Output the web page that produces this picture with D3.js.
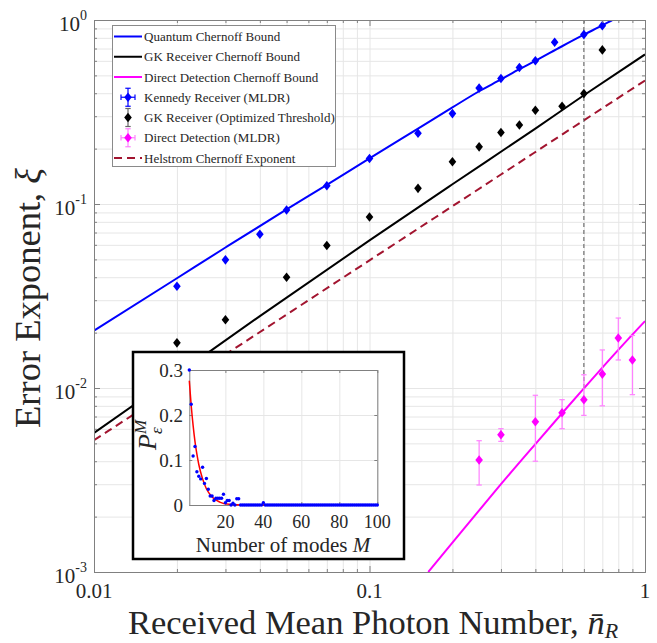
<!DOCTYPE html>
<html><head><meta charset="utf-8">
<script src="https://cdn.jsdelivr.net/npm/d3@7"></script>
<style>
body{margin:0;background:#fff}
svg{display:block}
text{font-family:"Liberation Serif","Times New Roman",serif;fill:#262626}
</style>
</head><body>
<svg id="c" width="657" height="643"></svg>
<script>
// ---------------- DATA ----------------
const xTickVals = [0.01, 0.1, 1];
const xTickLabels = ["0.01", "0.1", "1"];
const yTickVals = [1, 0.1, 0.01, 0.001];
const yTickExponents = ["0", "-1", "-2", "-3"];

// Theoretical curves
const qcbX = [0.01, 0.02, 0.03, 0.05, 0.07, 0.1, 0.15, 0.2, 0.25, 0.3, 0.35, 0.4, 0.5, 0.6, 0.7, 0.8];
const qcbY = [0.0205, 0.0395, 0.058, 0.0935, 0.127, 0.177, 0.257, 0.335, 0.41, 0.475, 0.54, 0.6, 0.72, 0.832, 0.935, 1.04];
const gkbX = [0.01, 0.02, 0.04, 0.1, 0.2, 0.4, 0.6, 1];
const gkbY = [0.0057, 0.0118, 0.0246, 0.0634, 0.128, 0.257, 0.39, 0.65];
const ddbX = [0.1634, 0.2, 0.25, 0.3, 0.4, 0.5, 0.6, 0.8, 1];
const ddbY = [0.001, 0.001445, 0.00216, 0.0030, 0.00496, 0.00729, 0.00995, 0.01612, 0.0231];
const helX = [0.01, 0.03, 0.1, 0.3, 0.6, 1];
const helY = [0.0052, 0.0152, 0.0494, 0.1446, 0.285, 0.469];

// Measured points
const kennedyX = [0.02, 0.03, 0.04, 0.05, 0.07, 0.1, 0.15, 0.2, 0.25, 0.3, 0.35, 0.4, 0.47, 0.6, 0.7];
const kennedyY = [0.0357, 0.0497, 0.0685, 0.0928, 0.1257, 0.1768, 0.2423, 0.31, 0.4266, 0.481, 0.552, 0.60, 0.757, 0.833, 0.932];
const gkX = [0.02, 0.03, 0.05, 0.07, 0.1, 0.15, 0.2, 0.25, 0.3, 0.35, 0.4, 0.5, 0.6, 0.7];
const gkY = [0.0176, 0.0235, 0.040, 0.0595, 0.085, 0.1216, 0.1696, 0.2044, 0.2445, 0.269, 0.323, 0.34, 0.398, 0.688];
const ddX = [0.25, 0.3, 0.4, 0.5, 0.6, 0.7, 0.8, 0.9];
const ddY = [0.00406, 0.00557, 0.00656, 0.00734, 0.00864, 0.0119, 0.0187, 0.0142];
const ddLo = [0.00297, 0.00513, 0.0040, 0.00601, 0.0071, 0.0080, 0.0142, 0.0092];
const ddHi = [0.00517, 0.00601, 0.00913, 0.00864, 0.0118, 0.0161, 0.0240, 0.0193];
const markerLineX = 0.6;
const markerLineY = [0.01, 1];

// Legend
const legendLabels = ["Quantum Chernoff Bound", "GK Receiver Chernoff Bound", "Direct Detection Chernoff Bound",
  "Kennedy Receiver (MLDR)", "GK Receiver (Optimized Threshold)", "Direct Detection (MLDR)", "Helstrom Chernoff Exponent"];

// Inset
const insetXTicks = [20, 40, 60, 80, 100];
const insetYTicks = [0, 0.1, 0.2, 0.3];
const insetYTickLabels = ["0", "0.1", "0.2", "0.3"];
const insetM = d3.range(1, 101);
const insetP = [0.300, 0.224, 0.109, 0.130, 0.074, 0.064, 0.058, 0.084, 0.048, 0.059,
  0.035, 0.020, 0.020, 0.010, 0.015, 0.015, 0.015, 0.015, 0.024, 0.005,
  0.010, 0.010, 0.000, 0.004, 0.000, 0.014, 0.014, 0, 0, 0,
  0, 0, 0, 0, 0, 0, 0, 0, 0, 0.005,
  0, 0, 0, 0, 0, 0, 0, 0, 0, 0,
  0, 0, 0, 0, 0, 0, 0, 0, 0, 0,
  0, 0, 0, 0, 0, 0, 0, 0, 0, 0,
  0, 0, 0, 0, 0, 0, 0, 0, 0, 0,
  0, 0, 0, 0, 0, 0, 0, 0, 0, 0,
  0, 0, 0, 0, 0, 0, 0, 0, 0, 0];
const fitM = [1, 2, 3, 4, 5, 6, 8, 10, 13, 17, 22, 30, 100];
const fitP = [0.276, 0.221, 0.177, 0.141, 0.113, 0.090, 0.058, 0.036, 0.018, 0.0065, 0.0015, 0.0, 0.0];

// ---------------- CHART ----------------
const svg = d3.select("#c");
const L = 94, R = 645, T = 20, B = 572;
const axisCol = "#808080", gridCol = "#e6e6e6";
const x = d3.scaleLog().domain([0.01, 1]).range([L, R]);
const y = d3.scaleLog().domain([0.001, 1]).range([B, T]);
const isMajor = v => Math.abs(Math.log10(v) - Math.round(Math.log10(v))) < 1e-9;
const xAll = x.ticks(), yAll = y.ticks();
const xMaj = xAll.filter(isMajor), xMin = xAll.filter(v => !isMajor(v));
const yMaj = yAll.filter(isMajor), yMin = yAll.filter(v => !isMajor(v));

function styleGrid(g) { g.select(".domain").remove(); g.selectAll("line").attr("stroke", gridCol).attr("stroke-width", 1); }
svg.append("g").attr("transform", `translate(0,${B})`)
  .call(d3.axisBottom(x).tickValues(xAll).tickSize(-(B - T)).tickFormat("")).call(styleGrid);
svg.append("g").attr("transform", `translate(${L},0)`)
  .call(d3.axisLeft(y).tickValues(yAll).tickSize(-(R - L)).tickFormat("")).call(styleGrid);

svg.append("defs").append("clipPath").attr("id", "clip")
  .append("rect").attr("x", L).attr("y", T).attr("width", R - L).attr("height", B - T);
const plot = svg.append("g").attr("clip-path", "url(#clip)");
const line = d3.line().x(d => x(d[0])).y(d => y(d[1])).curve(d3.curveMonotoneX);
const zip = (a, b) => a.map((v, i) => [v, b[i]]);

plot.append("path").datum(zip(helX, helY)).attr("d", line).attr("fill", "none")
  .attr("stroke", "#a2142f").attr("stroke-width", 2).attr("stroke-dasharray", "8,5");
plot.append("path").datum(zip(gkbX, gkbY)).attr("d", line).attr("fill", "none")
  .attr("stroke", "#000").attr("stroke-width", 2);
plot.append("path").datum(zip(qcbX, qcbY)).attr("d", line).attr("fill", "none")
  .attr("stroke", "#0000ff").attr("stroke-width", 2);
plot.append("path").datum(zip(ddbX, ddbY)).attr("d", line).attr("fill", "none")
  .attr("stroke", "#ff00ff").attr("stroke-width", 2);

// vertical dashed marker
plot.append("line").attr("x1", x(markerLineX)).attr("x2", x(markerLineX))
  .attr("y1", y(markerLineY[0])).attr("y2", y(markerLineY[1]))
  .attr("stroke", "#555").attr("stroke-width", 1).attr("stroke-dasharray", "4,3");

const diamond = (cx, cy) => `M${cx},${cy - 4.8}L${cx + 3.8},${cy}L${cx},${cy + 4.8}L${cx - 3.8},${cy}Z`;

// DD error bars
const ddErr = plot.append("g").attr("stroke", "#ff80ff").attr("stroke-width", 1.2);
ddX.forEach((v, i) => {
  const cx = x(v);
  ddErr.append("line").attr("x1", cx).attr("x2", cx).attr("y1", y(ddLo[i])).attr("y2", y(ddHi[i]));
  ddErr.append("line").attr("x1", cx - 2.7).attr("x2", cx + 2.7).attr("y1", y(ddLo[i])).attr("y2", y(ddLo[i]));
  ddErr.append("line").attr("x1", cx - 2.7).attr("x2", cx + 2.7).attr("y1", y(ddHi[i])).attr("y2", y(ddHi[i]));
});
plot.selectAll(".kd").data(zip(kennedyX, kennedyY)).join("path")
  .attr("d", d => diamond(x(d[0]), y(d[1]))).attr("fill", "#0000ff");
plot.selectAll(".gd").data(zip(gkX, gkY)).join("path")
  .attr("d", d => diamond(x(d[0]), y(d[1]))).attr("fill", "#000");
plot.selectAll(".dd").data(zip(ddX, ddY)).join("path")
  .attr("d", d => diamond(x(d[0]), y(d[1]))).attr("fill", "#ff00ff");

// axes box + ticks (inward)
function styleAx(g) { g.selectAll("text").remove(); g.select(".domain").attr("stroke", axisCol); g.selectAll("line").attr("stroke", axisCol); }
[[xMaj, 6], [xMin, 3]].forEach(([vals, s]) => {
  svg.append("g").attr("transform", `translate(0,${B})`).call(d3.axisBottom(x).tickValues(vals).tickSizeInner(-s).tickSizeOuter(0)).call(styleAx);
  svg.append("g").attr("transform", `translate(0,${T})`).call(d3.axisTop(x).tickValues(vals).tickSizeInner(-s).tickSizeOuter(0)).call(styleAx);
});
[[yMaj, 6], [yMin, 3]].forEach(([vals, s]) => {
  svg.append("g").attr("transform", `translate(${L},0)`).call(d3.axisLeft(y).tickValues(vals).tickSizeInner(-s).tickSizeOuter(0)).call(styleAx);
  svg.append("g").attr("transform", `translate(${R},0)`).call(d3.axisRight(y).tickValues(vals).tickSizeInner(-s).tickSizeOuter(0)).call(styleAx);
});

// tick labels
xTickVals.forEach((v, i) => {
  svg.append("text").attr("x", x(v)).attr("y", 598).attr("text-anchor", "middle")
    .attr("font-size", 21).text(xTickLabels[i]);
});
yTickVals.forEach((v, i) => {
  const t = svg.append("text").attr("x", 87).attr("y", y(v) + 11).attr("text-anchor", "end").attr("font-size", 21);
  t.append("tspan").text("10");
  t.append("tspan").attr("dy", -11).attr("font-size", 14).text(yTickExponents[i]);
});

// axis titles
const xl = svg.append("text").attr("x", 373).attr("y", 634).attr("text-anchor", "middle").attr("font-size", 34.5);
xl.append("tspan").text("Received Mean Photon Number, ");
xl.append("tspan").attr("font-style", "italic").text("n\u0304");
xl.append("tspan").attr("font-style", "italic").attr("font-size", 22).attr("dy", 4).text("R");
const yl = svg.append("text").attr("transform", "translate(40,298) rotate(-90)").attr("text-anchor", "middle").attr("font-size", 36.5);
yl.append("tspan").text("Error Exponent, ");
yl.append("tspan").attr("font-style", "italic").text("\u03BE");

// ---------------- LEGEND ----------------
const lg = svg.append("g");
lg.append("rect").attr("x", 112.5).attr("y", 25.5).attr("width", 223).attr("height", 141)
  .attr("fill", "#fff").attr("stroke", "#8a8a8a").attr("stroke-width", 1);
const rowY = i => 36.5 + i * 20.25;
const gx0 = 114, gx1 = 142, gxc = 128;
const lineCols = ["#0000ff", "#000", "#ff00ff"];
lineCols.forEach((c, i) => lg.append("line").attr("x1", gx0).attr("x2", gx1).attr("y1", rowY(i)).attr("y2", rowY(i)).attr("stroke", c).attr("stroke-width", 2));
function errGlyph(i, col, fillCol, horiz) {
  const cy = rowY(i), g = lg.append("g").attr("stroke", col).attr("stroke-width", 1.2);
  g.append("line").attr("x1", gxc).attr("x2", gxc).attr("y1", cy - 9).attr("y2", cy + 9);
  g.append("line").attr("x1", gxc - 2.7).attr("x2", gxc + 2.7).attr("y1", cy - 9).attr("y2", cy - 9);
  g.append("line").attr("x1", gxc - 2.7).attr("x2", gxc + 2.7).attr("y1", cy + 9).attr("y2", cy + 9);
  if (horiz) {
    g.append("line").attr("x1", gxc - 7).attr("x2", gxc + 7).attr("y1", cy).attr("y2", cy);
    g.append("line").attr("x1", gxc - 7).attr("x2", gxc - 7).attr("y1", cy - 2.7).attr("y2", cy + 2.7);
    g.append("line").attr("x1", gxc + 7).attr("x2", gxc + 7).attr("y1", cy - 2.7).attr("y2", cy + 2.7);
  }
  lg.append("path").attr("d", diamond(gxc, cy)).attr("fill", fillCol);
}
errGlyph(3, "#0000ff", "#0000ff", true);
errGlyph(4, "#666", "#000", false);
errGlyph(5, "#ff80ff", "#ff00ff", true);
lg.append("line").attr("x1", gx0).attr("x2", gx1).attr("y1", rowY(6)).attr("y2", rowY(6))
  .attr("stroke", "#a2142f").attr("stroke-width", 2).attr("stroke-dasharray", "8,5");
legendLabels.forEach((s, i) => lg.append("text").attr("x", 144).attr("y", rowY(i) + 4.5)
  .attr("font-size", 13).text(s));

// ---------------- INSET ----------------
const ins = svg.append("g");
ins.append("rect").attr("x", 133).attr("y", 352).attr("width", 271).attr("height", 207)
  .attr("fill", "#fff").attr("stroke", "#000").attr("stroke-width", 2.5);
const iL = 189.3, iR = 377.3, iT = 370, iB = 505;
const ix = d3.scaleLinear().domain([1, 100]).range([iL, iR]);
const iy = d3.scaleLinear().domain([0, 0.3]).range([iB, iT]);
ins.append("g").attr("transform", `translate(0,${iB})`)
  .call(d3.axisBottom(ix).tickValues(insetXTicks).tickSize(-(iB - iT)).tickFormat("")).call(styleGrid);
ins.append("g").attr("transform", `translate(${iL},0)`)
  .call(d3.axisLeft(iy).tickValues(insetYTicks).tickSize(-(iR - iL)).tickFormat("")).call(styleGrid);
ins.append("g").attr("transform", `translate(0,${iB})`).call(d3.axisBottom(ix).tickValues(insetXTicks).tickSizeInner(-3).tickSizeOuter(0)).call(styleAx);
ins.append("g").attr("transform", `translate(0,${iT})`).call(d3.axisTop(ix).tickValues(insetXTicks).tickSizeInner(-3).tickSizeOuter(0)).call(styleAx);
ins.append("g").attr("transform", `translate(${iL},0)`).call(d3.axisLeft(iy).tickValues(insetYTicks).tickSizeInner(-3).tickSizeOuter(0)).call(styleAx);
ins.append("g").attr("transform", `translate(${iR},0)`).call(d3.axisRight(iy).tickValues(insetYTicks).tickSizeInner(-3).tickSizeOuter(0)).call(styleAx);

const iline = d3.line().x(d => ix(d[0])).y(d => iy(d[1])).curve(d3.curveMonotoneX);
ins.append("path").datum(zip(fitM, fitP)).attr("d", iline).attr("fill", "none")
  .attr("stroke", "#ff0000").attr("stroke-width", 1.5);
ins.selectAll(".idot").data(zip(insetM, insetP)).join("circle")
  .attr("cx", d => ix(d[0])).attr("cy", d => iy(d[1])).attr("r", 1.7).attr("fill", "#0000ff");

insetYTicks.forEach((v, i) => ins.append("text").attr("x", 183).attr("y", iy(v) + 6.5)
  .attr("text-anchor", "end").attr("font-size", 19).text(insetYTickLabels[i]));
insetXTicks.forEach(v => ins.append("text").attr("x", ix(v)).attr("y", 528)
  .attr("text-anchor", "middle").attr("font-size", 18).text(v));
const ixl = ins.append("text").attr("x", 283).attr("y", 552).attr("text-anchor", "middle").attr("font-size", 21);
ixl.append("tspan").text("Number of modes ");
ixl.append("tspan").attr("font-style", "italic").text("M");
const iyl = ins.append("g").attr("transform", "translate(156,450) rotate(-90)");
iyl.append("text").attr("x", 0).attr("y", 0).attr("font-size", 26).attr("font-style", "italic").text("P");
iyl.append("text").attr("x", 16).attr("y", 6).attr("font-size", 17).attr("font-style", "italic").text("\u03B5");
iyl.append("text").attr("x", 16).attr("y", -10).attr("font-size", 17).attr("font-style", "italic").text("M");
</script>
</body></html>
